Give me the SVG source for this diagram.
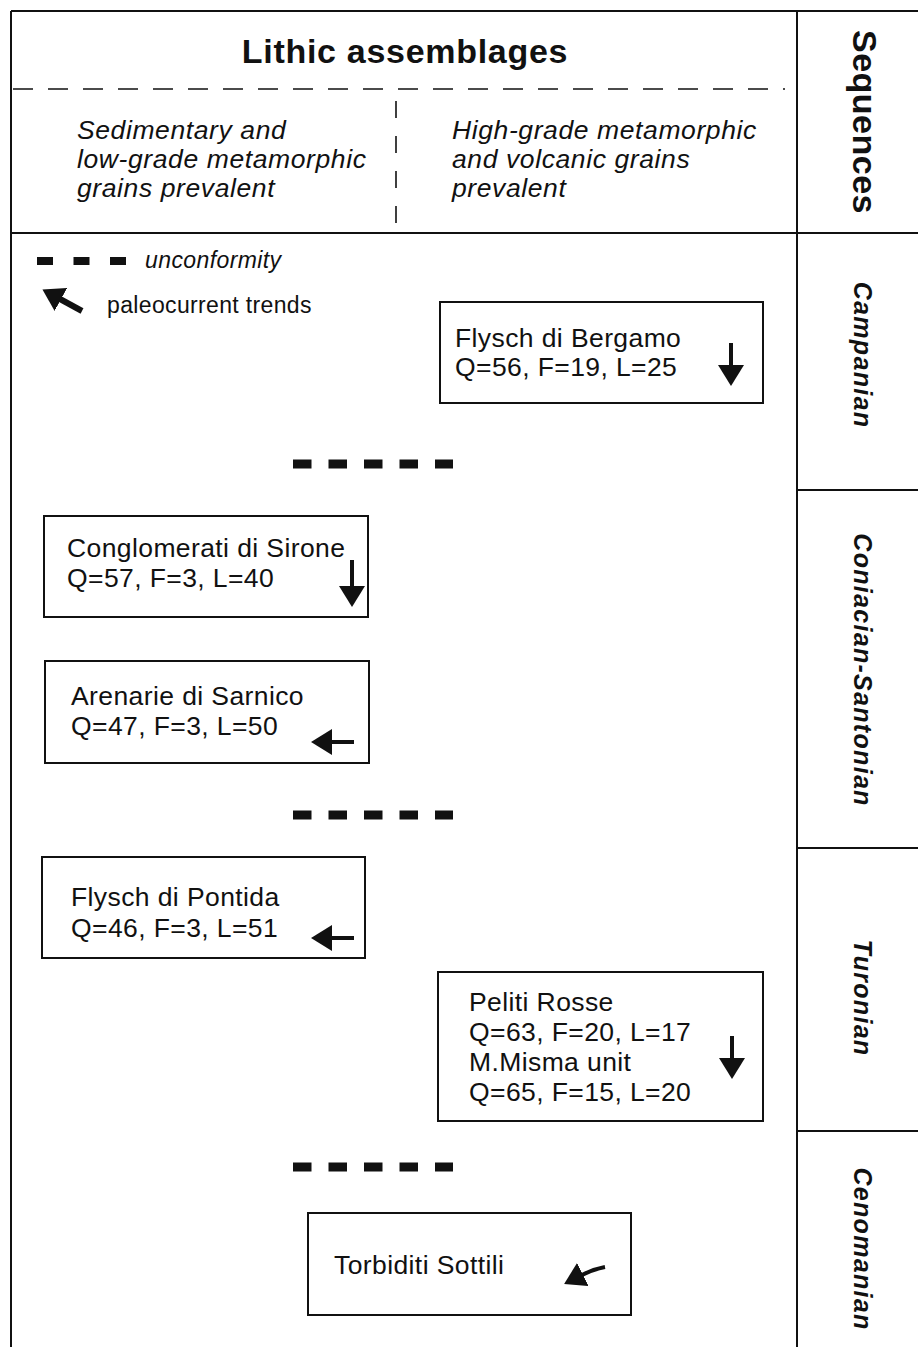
<svg xmlns="http://www.w3.org/2000/svg" width="918" height="1347" viewBox="0 0 918 1347">
<style>
.frame{stroke:#111;stroke-width:2;fill:none}
.box{stroke:#111;stroke-width:2;fill:#fff}
.t{font-family:"Liberation Sans",Arial,sans-serif;fill:#111}
.lbl{font-size:26.5px;letter-spacing:0.4px}
.it{font-style:italic}
.hd{font-size:26.5px;font-style:italic;letter-spacing:0.6px}
.unc{stroke:#111;stroke-width:9;stroke-dasharray:18.5 17}
.pc{stroke:#111;stroke-width:4;fill:none;marker-end:url(#ah)}
.seq{font-family:"Liberation Sans",Arial,sans-serif;font-size:25px;font-style:italic;font-weight:bold;letter-spacing:1.3px;fill:#111}
</style>
<defs>
<marker id="ah" markerWidth="22" markerHeight="26" refX="1" refY="13" orient="auto" markerUnits="userSpaceOnUse">
<path d="M0,0 L21,13 L0,26 z" fill="#111"/>
</marker>
</defs>
<rect width="918" height="1347" fill="#fff"/>
<g id="frame">
<line class="frame" x1="11" y1="11" x2="918" y2="11"/>
<line class="frame" x1="11" y1="11" x2="11" y2="1347"/>
<line class="frame" x1="797" y1="11" x2="797" y2="1347"/>
<line class="frame" x1="11" y1="233" x2="918" y2="233"/>
<line class="frame" x1="797" y1="490" x2="918" y2="490"/>
<line class="frame" x1="797" y1="848" x2="918" y2="848"/>
<line class="frame" x1="797" y1="1131" x2="918" y2="1131"/>
<line x1="13" y1="89" x2="785" y2="89" stroke="#111" stroke-width="1.6" stroke-dasharray="20 15"/>
<line x1="396" y1="101" x2="396" y2="225" stroke="#111" stroke-width="1.6" stroke-dasharray="17 18"/>
</g>
<g id="header">
<text class="t" x="405" y="63" font-size="34" font-weight="bold" letter-spacing="0.7" text-anchor="middle">Lithic assemblages</text>
<text class="t hd"><tspan x="77" y="139">Sedimentary and</tspan><tspan x="77" y="168">low-grade metamorphic</tspan><tspan x="77" y="197">grains prevalent</tspan></text>
<text class="t hd"><tspan x="452" y="139">High-grade metamorphic</tspan><tspan x="452" y="168">and volcanic grains</tspan><tspan x="452" y="197">prevalent</tspan></text>
<text class="t" font-size="34" font-weight="bold" letter-spacing="0.5" text-anchor="middle" transform="translate(853,122) rotate(90)">Sequences</text>
</g>
<g id="legend">
<line x1="37" y1="261" x2="126" y2="261" stroke="#111" stroke-width="8" stroke-dasharray="16 20.5"/>
<text class="t it" x="145" y="268" font-size="23" letter-spacing="0.4">unconformity</text>
<line x1="82" y1="311" x2="60" y2="299" stroke="#111" stroke-width="6" marker-end="url(#ah)"/>
<text class="t" x="107" y="313" font-size="23" letter-spacing="0.35">paleocurrent trends</text>
</g>
<g id="unconformities">
<line class="unc" x1="293" y1="464" x2="453" y2="464"/>
<line class="unc" x1="293" y1="815" x2="453" y2="815"/>
<line class="unc" x1="293" y1="1167" x2="453" y2="1167"/>
</g>
<g id="n-bergamo">
<rect class="box" x="440" y="302" width="323" height="101"/>
<text class="t lbl"><tspan x="455" y="347">Flysch di Bergamo</tspan><tspan x="455" y="376">Q=56, F=19, L=25</tspan></text>
</g>
<g id="n-sirone">
<rect class="box" x="44" y="516" width="324" height="101"/>
<text class="t lbl"><tspan x="67" y="557">Conglomerati di Sirone</tspan><tspan x="67" y="587">Q=57, F=3, L=40</tspan></text>
</g>
<g id="n-sarnico">
<rect class="box" x="45" y="661" width="324" height="102"/>
<text class="t lbl"><tspan x="71" y="705">Arenarie di Sarnico</tspan><tspan x="71" y="735">Q=47, F=3, L=50</tspan></text>
</g>
<g id="n-pontida">
<rect class="box" x="42" y="857" width="323" height="101"/>
<text class="t lbl"><tspan x="71" y="906">Flysch di Pontida</tspan><tspan x="71" y="937">Q=46, F=3, L=51</tspan></text>
</g>
<g id="n-peliti">
<rect class="box" x="438" y="972" width="325" height="149"/>
<text class="t lbl"><tspan x="469" y="1011">Peliti Rosse</tspan><tspan x="469" y="1041">Q=63, F=20, L=17</tspan><tspan x="469" y="1071">M.Misma unit</tspan><tspan x="469" y="1101">Q=65, F=15, L=20</tspan></text>
</g>
<g id="n-torbiditi">
<rect class="box" x="308" y="1213" width="323" height="102"/>
<text class="t lbl" x="334" y="1274">Torbiditi Sottili</text>
</g>
<g id="paleocurrents">
<line class="pc" x1="731" y1="343" x2="731" y2="366"/>
<line class="pc" x1="352" y1="560" x2="352" y2="587"/>
<line class="pc" x1="354" y1="742" x2="331" y2="742"/>
<line class="pc" x1="354" y1="938" x2="331" y2="938"/>
<line class="pc" x1="732" y1="1036" x2="732" y2="1059"/>
<path class="pc" d="M605,1267 Q594,1269 582,1275" stroke-width="5"/>
</g>
<g id="sequences">
<text class="seq" text-anchor="middle" transform="translate(854,355) rotate(90)">Campanian</text>
<text class="seq" text-anchor="middle" transform="translate(854,670) rotate(90)">Coniacian-Santonian</text>
<text class="seq" text-anchor="middle" transform="translate(854,998) rotate(90)">Turonian</text>
<text class="seq" text-anchor="middle" transform="translate(854,1249) rotate(90)">Cenomanian</text>
</g>
</svg>
